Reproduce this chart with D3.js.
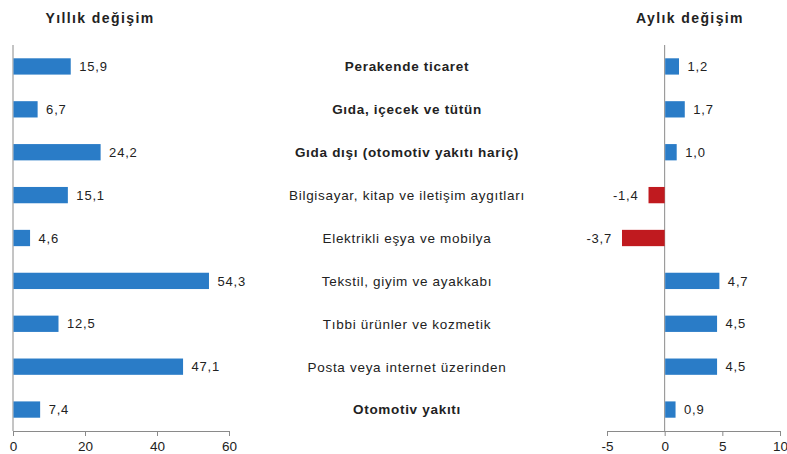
<!DOCTYPE html>
<html><head><meta charset="utf-8">
<script src="https://cdn.jsdelivr.net/npm/d3@7"></script>
<style>body{margin:0;background:#fff}svg{display:block;font-family:"Liberation Sans",Arial,sans-serif}</style>
</head><body><svg id="c" width="787" height="454"></svg>
<script>
const categories = ["Perakende ticaret","Gıda, içecek ve tütün","Gıda dışı (otomotiv yakıtı hariç)","Bilgisayar, kitap ve iletişim aygıtları","Elektrikli eşya ve mobilya","Tekstil, giyim ve ayakkabı","Tıbbi ürünler ve kozmetik","Posta veya internet üzerinden","Otomotiv yakıtı"];
const boldCats = [true,true,true,false,false,false,false,false,true];
const annual = [15.9,6.7,24.2,15.1,4.6,54.3,12.5,47.1,7.4];
const monthly = [1.2,1.7,1.0,-1.4,-3.7,4.7,4.5,4.5,0.9];
const annualTicks = [0,20,40,60];
const monthlyTicks = [-5,0,5,10];
const fmt = v => v.toFixed(1).replace(".",",");

const svg = d3.select("#c");
const plotTop = 45, plotBottom = 431;
const y = d3.scaleBand().domain(categories).range([plotTop,plotBottom]).paddingInner(0.62).paddingOuter(0.31);
const xA = d3.scaleLinear().domain([0,60]).range([13,229]);
const xM = d3.scaleLinear().domain([-5,10]).range([607,780]);
const blue = "#2a7cc7", red = "#c01a1f", axisCol = "#8a8a8a", txt = "#222";

function axis(x, ticks){
  const g = svg.append("g").attr("transform",`translate(0,${plotBottom})`)
    .call(d3.axisBottom(x).tickValues(ticks).tickSize(5).tickSizeOuter(0).tickFormat(d=>String(d)));
  g.select(".domain").attr("stroke",axisCol);
  g.selectAll(".tick line").attr("stroke",axisCol);
  g.selectAll("text").attr("font-size",13.5).attr("fill",txt).attr("y",20).attr("dy",0);
}
axis(xA, annualTicks); axis(xM, monthlyTicks);

svg.append("line").attr("x1",xA(0)).attr("x2",xA(0)).attr("y1",plotTop).attr("y2",plotBottom).attr("stroke",axisCol);
svg.append("line").attr("x1",xM(0)).attr("x2",xM(0)).attr("y1",plotTop).attr("y2",plotBottom).attr("stroke",axisCol);

svg.selectAll(".ba").data(annual).join("rect")
  .attr("x",xA(0)+0.5).attr("y",(d,i)=>y(categories[i]))
  .attr("width",d=>xA(d)-xA(0)).attr("height",y.bandwidth()).attr("fill",blue);
svg.selectAll(".la").data(annual).join("text")
  .attr("x",d=>xA(d)+9).attr("y",(d,i)=>y(categories[i])+y.bandwidth()/2)
  .attr("dy","0.36em").attr("font-size",13).attr("letter-spacing",0.8).attr("fill",txt).text(fmt);

svg.selectAll(".bm").data(monthly).join("rect")
  .attr("x",d=>d>=0?xM(0)+0.5:xM(d)).attr("y",(d,i)=>y(categories[i]))
  .attr("width",d=>Math.abs(xM(d)-xM(0))).attr("height",y.bandwidth())
  .attr("fill",d=>d>=0?blue:red);
svg.selectAll(".lm").data(monthly).join("text")
  .attr("x",d=>d>=0?xM(d)+9:xM(d)-10).attr("y",(d,i)=>y(categories[i])+y.bandwidth()/2)
  .attr("text-anchor",d=>d>=0?"start":"end")
  .attr("dy","0.36em").attr("font-size",13).attr("letter-spacing",0.8).attr("fill",txt).text(fmt);

svg.selectAll(".cat").data(categories).join("text")
  .attr("x",407).attr("y",d=>y(d)+y.bandwidth()/2).attr("dy","0.36em")
  .attr("text-anchor","middle").attr("font-size",13.5).attr("letter-spacing",0.7)
  .attr("font-weight",(d,i)=>boldCats[i]?"bold":"normal").attr("fill",txt).text(d=>d);

svg.append("text").attr("x",100).attr("y",23).attr("text-anchor","middle")
  .attr("font-size",14).attr("letter-spacing",1.4).attr("font-weight","bold").attr("fill",txt).text("Yıllık değişim");
svg.append("text").attr("x",690).attr("y",23).attr("text-anchor","middle")
  .attr("font-size",14).attr("letter-spacing",1.4).attr("font-weight","bold").attr("fill",txt).text("Aylık değişim");
</script></body></html>
